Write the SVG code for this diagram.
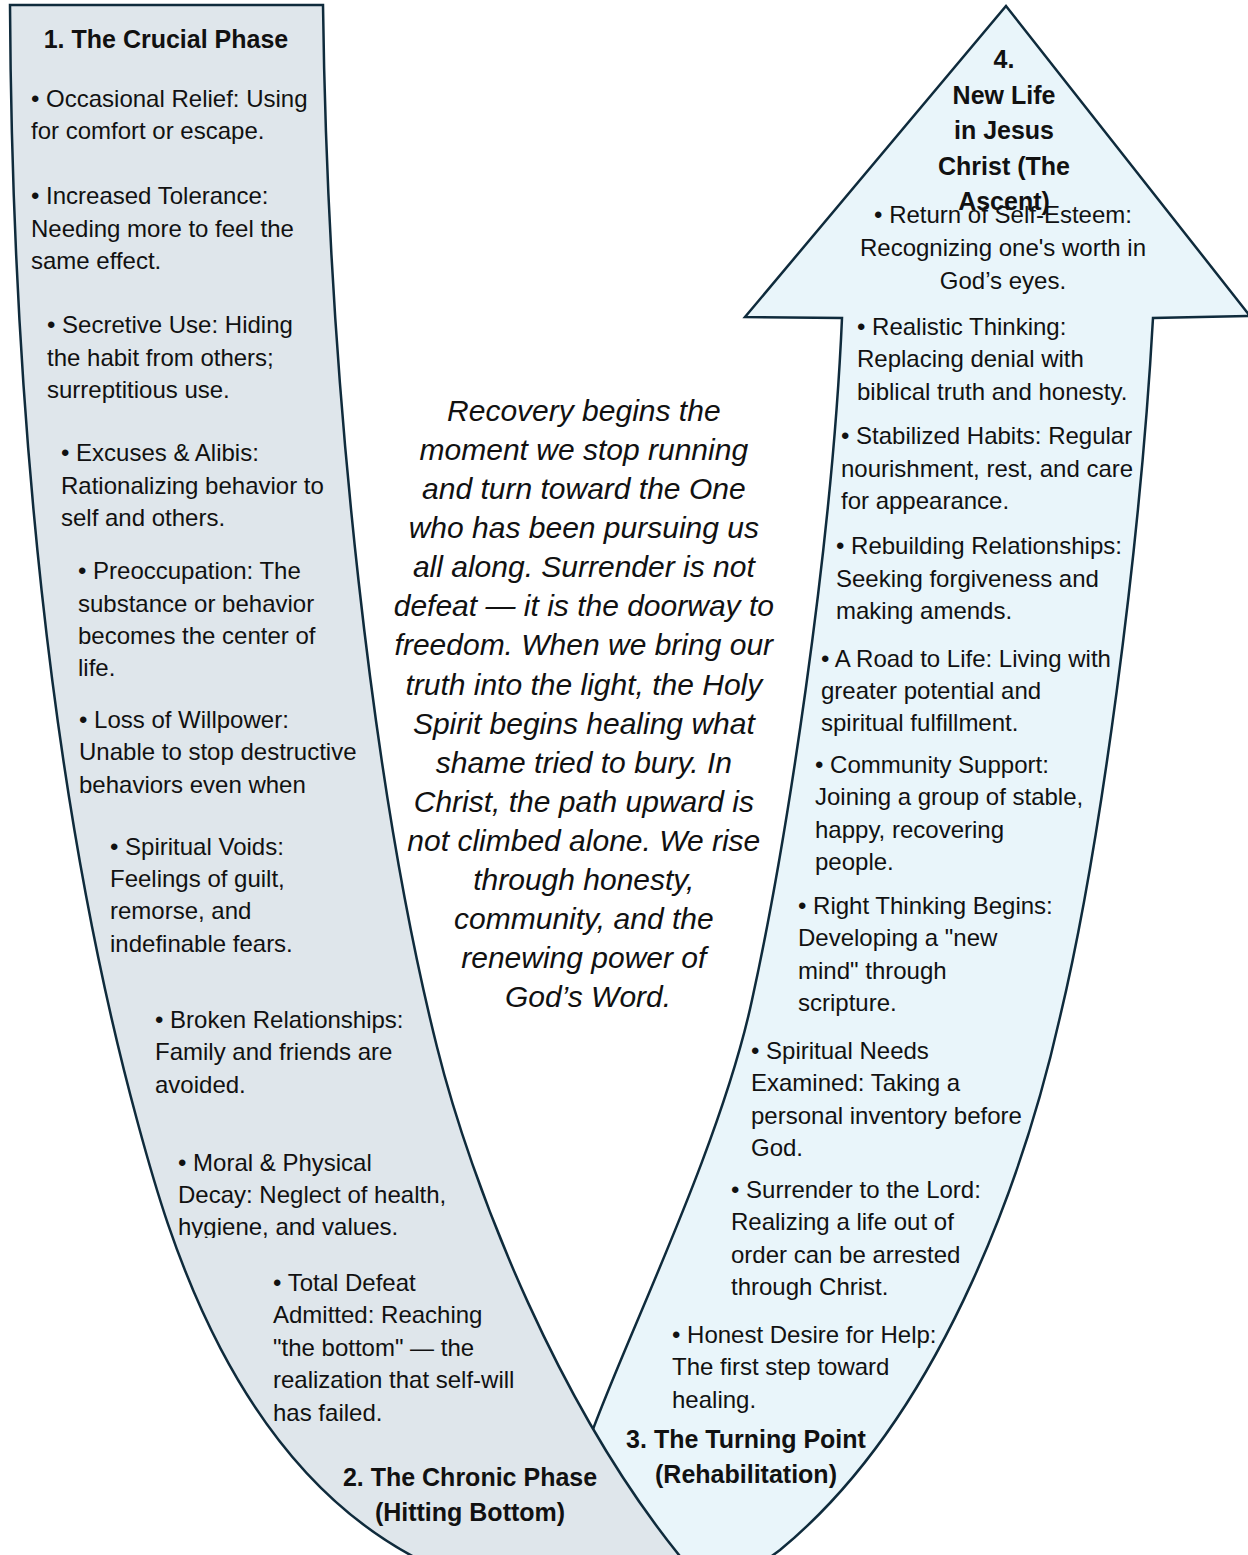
<svg xmlns="http://www.w3.org/2000/svg" width="1248" height="1555" viewBox="0 0 1248 1555">
<defs>
<style>
.arm{stroke:#0f2b3c;stroke-width:2.5;stroke-linejoin:miter}
.b{font-family:"Liberation Sans",Arial,sans-serif;font-size:24px;fill:#111}
.h{font-family:"Liberation Sans",Arial,sans-serif;font-size:25px;font-weight:bold;fill:#111}
.q{font-family:"Liberation Sans",Arial,sans-serif;font-size:30px;font-style:italic;fill:#111}
.c{text-anchor:middle}
</style>
<clipPath id="clipHyg"><rect x="0" y="0" width="1248" height="1238"/></clipPath>
</defs>
<rect width="1248" height="1555" fill="#ffffff"/>

<g id="ascent-arm">
<path class="arm" fill="#e9f5fa" d="M 1006,6 L 1250,316 L 1153,318 C 1140,550 1100,850 1060,1017 C 1030,1150 950,1410 780,1550 C 740,1580 700,1600 650,1610 L 520,1610 L 588,1443 C 620,1350 720,1150 752,1000 C 785,850 832,550 842,318 L 745,317 Z"/>
</g>

<g id="descent-arm">
<path class="arm" fill="#dfe6eb" d="M 10,5 L 323,5 C 328,400 375,800 437,1047 C 470,1180 560,1420 700,1580 L 430,1580 L 430,1565 C 230,1470 165,1223 137,1120 C 50,800 12,400 10,5 Z"/>
</g>

<g id="connectors"></g>

<g id="phase1">
<text class="h c" x="166" y="48">1. The Crucial Phase</text>
<text class="b"><tspan x="31" y="107">• Occasional Relief: Using</tspan><tspan x="31" y="139">for comfort or escape.</tspan></text>
<text class="b"><tspan x="31" y="204">• Increased Tolerance:</tspan><tspan x="31" y="237">Needing more to feel the</tspan><tspan x="31" y="269">same effect.</tspan></text>
<text class="b"><tspan x="47" y="333">• Secretive Use: Hiding</tspan><tspan x="47" y="366">the habit from others;</tspan><tspan x="47" y="398">surreptitious use.</tspan></text>
<text class="b"><tspan x="61" y="461">• Excuses &amp; Alibis:</tspan><tspan x="61" y="494">Rationalizing behavior to</tspan><tspan x="61" y="526">self and others.</tspan></text>
<text class="b"><tspan x="78" y="579">• Preoccupation: The</tspan><tspan x="78" y="612">substance or behavior</tspan><tspan x="78" y="644">becomes the center of</tspan><tspan x="78" y="676">life.</tspan></text>
<text class="b"><tspan x="79" y="728">• Loss of Willpower:</tspan><tspan x="79" y="760">Unable to stop destructive</tspan><tspan x="79" y="793">behaviors even when</tspan></text>
<text class="b"><tspan x="110" y="855">• Spiritual Voids:</tspan><tspan x="110" y="887">Feelings of guilt,</tspan><tspan x="110" y="919">remorse, and</tspan><tspan x="110" y="952">indefinable fears.</tspan></text>
<text class="b"><tspan x="155" y="1028">• Broken Relationships:</tspan><tspan x="155" y="1060">Family and friends are</tspan><tspan x="155" y="1093">avoided.</tspan></text>
<text class="b" clip-path="url(#clipHyg)"><tspan x="178" y="1171">• Moral &amp; Physical</tspan><tspan x="178" y="1203">Decay: Neglect of health,</tspan><tspan x="178" y="1235">hygiene, and values.</tspan></text>
</g>

<g id="phase2">
<text class="b"><tspan x="273" y="1291">• Total Defeat</tspan><tspan x="273" y="1323">Admitted: Reaching</tspan><tspan x="273" y="1356">"the bottom" — the</tspan><tspan x="273" y="1388">realization that self-will</tspan><tspan x="273" y="1421">has failed.</tspan></text>
<text class="h c"><tspan x="470" y="1486">2. The Chronic Phase</tspan><tspan x="470" y="1521">(Hitting Bottom)</tspan></text>
</g>

<g id="phase3">
<text class="b"><tspan x="751" y="1059">• Spiritual Needs</tspan><tspan x="751" y="1091">Examined: Taking a</tspan><tspan x="751" y="1124">personal inventory before</tspan><tspan x="751" y="1156">God.</tspan></text>
<text class="b"><tspan x="731" y="1198">• Surrender to the Lord:</tspan><tspan x="731" y="1230">Realizing a life out of</tspan><tspan x="731" y="1263">order can be arrested</tspan><tspan x="731" y="1295">through Christ.</tspan></text>
<text class="b"><tspan x="672" y="1343">• Honest Desire for Help:</tspan><tspan x="672" y="1375">The first step toward</tspan><tspan x="672" y="1408">healing.</tspan></text>
<text class="h c"><tspan x="746" y="1448">3. The Turning Point</tspan><tspan x="746" y="1483">(Rehabilitation)</tspan></text>
</g>

<g id="phase4">
<text class="h c"><tspan x="1004" y="68">4.</tspan><tspan x="1004" y="104">New Life</tspan><tspan x="1004" y="139">in Jesus</tspan><tspan x="1004" y="175">Christ (The</tspan><tspan x="1004" y="210">Ascent)</tspan></text>
<text class="b c"><tspan x="1003" y="223">• Return of Self-Esteem:</tspan><tspan x="1003" y="256">Recognizing one's worth in</tspan><tspan x="1003" y="289">God’s eyes.</tspan></text>
<text class="b"><tspan x="857" y="335">• Realistic Thinking:</tspan><tspan x="857" y="367">Replacing denial with</tspan><tspan x="857" y="400">biblical truth and honesty.</tspan></text>
<text class="b"><tspan x="841" y="444">• Stabilized Habits: Regular</tspan><tspan x="841" y="477">nourishment, rest, and care</tspan><tspan x="841" y="509">for appearance.</tspan></text>
<text class="b"><tspan x="836" y="554">• Rebuilding Relationships:</tspan><tspan x="836" y="587">Seeking forgiveness and</tspan><tspan x="836" y="619">making amends.</tspan></text>
<text class="b"><tspan x="821" y="667">• A Road to Life: Living with</tspan><tspan x="821" y="699">greater potential and</tspan><tspan x="821" y="731">spiritual fulfillment.</tspan></text>
<text class="b"><tspan x="815" y="773">• Community Support:</tspan><tspan x="815" y="805">Joining a group of stable,</tspan><tspan x="815" y="838">happy, recovering</tspan><tspan x="815" y="870">people.</tspan></text>
<text class="b"><tspan x="798" y="914">• Right Thinking Begins:</tspan><tspan x="798" y="946">Developing a "new</tspan><tspan x="798" y="979">mind" through</tspan><tspan x="798" y="1011">scripture.</tspan></text>
</g>

<g id="center-quote">
<text class="q c">
<tspan x="588" y="421">Recovery begins the</tspan>
<tspan x="588" y="460">moment we stop running</tspan>
<tspan x="588" y="499">and turn toward the One</tspan>
<tspan x="588" y="538">who has been pursuing us</tspan>
<tspan x="588" y="577">all along. Surrender is not</tspan>
<tspan x="588" y="616">defeat — it is the doorway to</tspan>
<tspan x="588" y="655">freedom. When we bring our</tspan>
<tspan x="588" y="695">truth into the light, the Holy</tspan>
<tspan x="588" y="734">Spirit begins healing what</tspan>
<tspan x="588" y="773">shame tried to bury. In</tspan>
<tspan x="588" y="812">Christ, the path upward is</tspan>
<tspan x="588" y="851">not climbed alone. We rise</tspan>
<tspan x="588" y="890">through honesty,</tspan>
<tspan x="588" y="929">community, and the</tspan>
<tspan x="588" y="968">renewing power of</tspan>
<tspan x="588" y="1007">God’s Word.</tspan>
</text>
</g>
</svg>
